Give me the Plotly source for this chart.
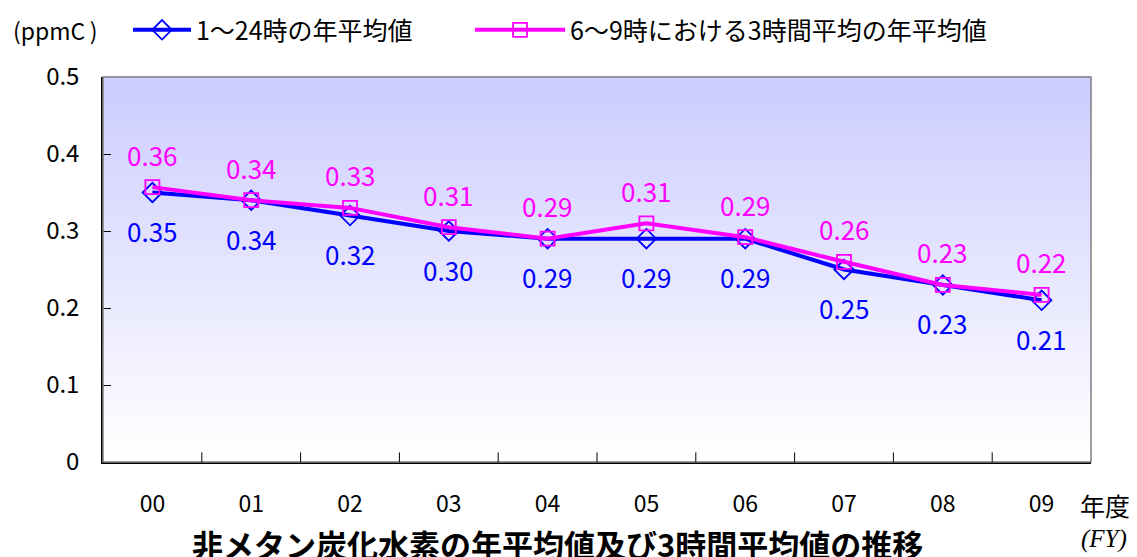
import plotly.graph_objects as go

years = ["00", "01", "02", "03", "04", "05", "06", "07", "08", "09"]
all_day = [0.35, 0.34, 0.32, 0.30, 0.29, 0.29, 0.29, 0.25, 0.23, 0.21]
morning = [0.357, 0.34, 0.33, 0.305, 0.29, 0.31, 0.292, 0.26, 0.23, 0.217]
all_day_labels = ["0.35", "0.34", "0.32", "0.30", "0.29", "0.29", "0.29", "0.25", "0.23", "0.21"]
morning_labels = ["0.36", "0.34", "0.33", "0.31", "0.29", "0.31", "0.29", "0.26", "0.23", "0.22"]
name_all = "1～24時の年平均値"
name_morning = "6～9時における3時間平均の年平均値"
y_ticks = [0, 0.1, 0.2, 0.3, 0.4, 0.5]
y_tick_text = ["0", "0.1", "0.2", "0.3", "0.4", "0.5"]

FONT = "Noto Sans CJK JP"
BLUE = "#0000ff"
MAG = "#ff00ff"

fig = go.Figure()
fig.add_trace(go.Scatter(
    x=years, y=all_day, name=name_all, mode="lines+markers", legend="legend",
    line=dict(color=BLUE, width=4),
    marker=dict(symbol="diamond-open", size=15, color=BLUE, line=dict(width=1.8, color=BLUE)),
))
fig.add_trace(go.Scatter(
    x=years, y=morning, name=name_morning, mode="lines+markers", legend="legend2",
    line=dict(color=MAG, width=4),
    marker=dict(symbol="square-open", size=14, color=MAG, line=dict(width=1.8, color=MAG)),
))

anns = []
for x, y, t in zip(years, all_day, all_day_labels):
    anns.append(dict(x=x, y=y, text=t, showarrow=False, yshift=-38,
                     font=dict(family=FONT, size=26, color=BLUE)))
for x, y, t in zip(years, morning, morning_labels):
    anns.append(dict(x=x, y=y, text=t, showarrow=False, yshift=33,
                     font=dict(family=FONT, size=26, color=MAG)))

anns += [
    dict(xref="paper", yref="paper", x=-0.0931, y=1.122, xanchor="left", yanchor="middle",
         text="(ppmC\u2009)", showarrow=False, font=dict(family=FONT, size=23, color="black")),
    dict(xref="paper", yref="paper", x=1.014, y=-0.112, xanchor="center", yanchor="middle",
         text="年度", showarrow=False, font=dict(family=FONT, size=25, color="black")),
    dict(xref="paper", yref="paper", x=1.013, y=-0.2, xanchor="center", yanchor="middle",
         text="<i>(FY)</i>", showarrow=False, font=dict(family="Liberation Serif", size=25, color="black")),
    dict(xref="paper", yref="paper", x=0.46, y=-0.212, xanchor="center", yanchor="middle",
         text="<b>非メタン炭化水素の年平均値及び3時間平均値の推移</b>", showarrow=False,
         font=dict(family=FONT, size=31, color="black")),
]

# gradient background
shapes = []
n = 80
top = (204, 204, 255)
for i in range(n):
    f = i / (n - 1)
    c = tuple(int(round(255 + (tc - 255) * f)) for tc in top)
    shapes.append(dict(type="rect", xref="x domain", yref="y domain",
                       x0=0, x1=1, y0=i / n, y1=(i + 1) / n + 0.002,
                       fillcolor="rgb(%d,%d,%d)" % c, line=dict(width=0), layer="below"))
shapes.append(dict(type="rect", xref="x domain", yref="y domain", x0=0, x1=1, y0=0, y1=1,
                   line=dict(color="#808080", width=1.5), layer="above"))

legend_common = dict(orientation="h", y=1.122, xanchor="left", yanchor="middle",
                     font=dict(family=FONT, size=25, color="black"),
                     bgcolor="rgba(0,0,0,0)")

fig.update_layout(
    width=1129, height=549,
    margin=dict(l=95, r=46, t=69, b=95, autoexpand=False),
    paper_bgcolor="white", plot_bgcolor="white",
    font=dict(family=FONT, size=20, color="black"),
    showlegend=True,
    legend=dict(x=0.0253, itemwidth=58, **legend_common),
    legend2=dict(x=0.3715, itemwidth=90, **legend_common),
    annotations=anns,
    shapes=shapes,
)
fig.update_xaxes(
    type="category", showgrid=False, zeroline=False,
    showline=True, linecolor="black", linewidth=1.5,
    ticks="outside", ticklen=0, tickfont=dict(family=FONT, size=23),
    ticklabelstandoff=21,
    range=[-0.5, 9.5],
)
fig.update_yaxes(
    range=[0, 0.5], tickvals=y_ticks, ticktext=y_tick_text,
    showgrid=False, zeroline=False,
    showline=True, linecolor="black", linewidth=1.5,
    ticks="inside", ticklen=8, tickcolor="black", tickwidth=1,
    tickfont=dict(family=FONT, size=24), ticklabelstandoff=17,
)
# inner ticks between categories on x axis (boundaries)
for i in range(1, len(years)):
    fig.add_shape(type="line", xref="x", yref="y domain", x0=i - 0.5, x1=i - 0.5, y0=0, y1=0.025,
                  line=dict(color="black", width=1))

fig.write_html("out.html")
